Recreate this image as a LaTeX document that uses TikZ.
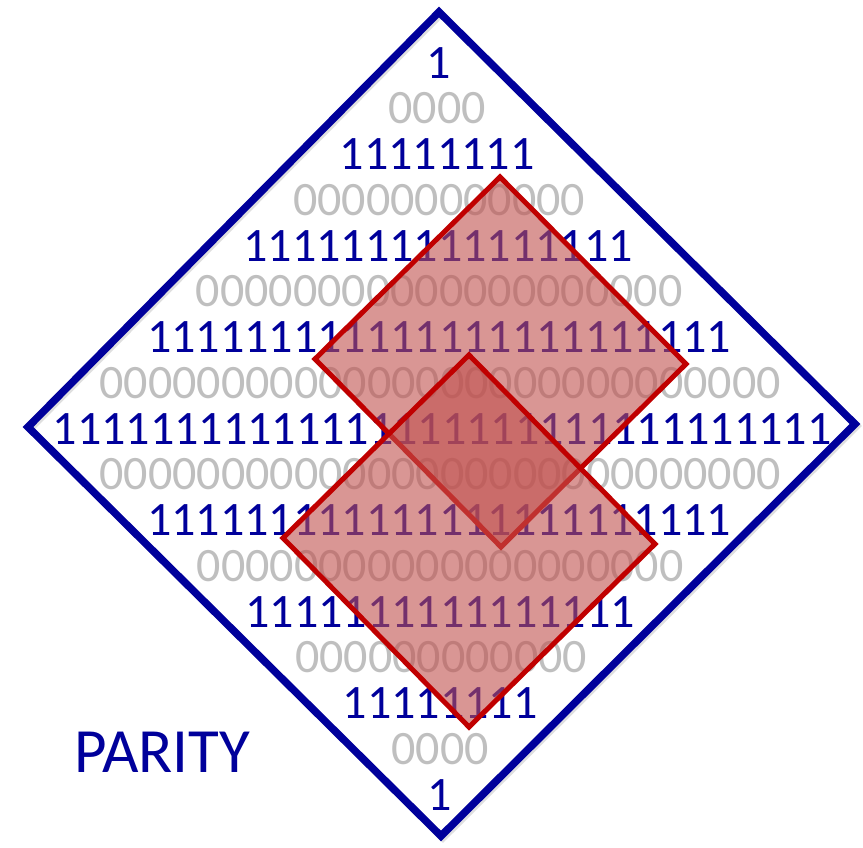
\documentclass[tikz,border=0pt]{standalone}
\usepackage{fontspec}
\setmainfont{Carlito}
\definecolor{pblue}{RGB}{0,0,155}
\definecolor{pgray}{RGB}{191,191,191}
\definecolor{pred}{RGB}{192,0,0}
\definecolor{pfill}{RGB}{192,80,77}
\begin{document}
\begin{tikzpicture}[x=1pt,y=-1pt,
  onerow/.style={anchor=base,inner sep=0pt,text=pblue,font=\fontsize{48}{48}\selectfont},
  zerorow/.style={anchor=base,inner sep=0pt,text=pgray,font=\fontsize{48}{48}\selectfont},
  outline/.style={draw=pblue,line width=7.5pt,line join=miter},
  redbox/.style={draw=pred,line width=5pt,fill=pfill,fill opacity=0.6,line join=miter}]
\useasboundingbox (0,0) rectangle (863,847);
% outer diamond
\coordinate (T) at (439,12);
\coordinate (R) at (855,424);
\coordinate (B) at (441,836);
\coordinate (L) at (28,427);
\draw[black!25,line width=7pt,opacity=0.5] ([shift={(2,2)}]T) -- ([shift={(2,2)}]R) -- ([shift={(2,2)}]B) -- ([shift={(2,2)}]L) -- cycle;
\draw[outline] (T) -- (R) -- (B) -- (L) -- cycle;
% rows
\node[onerow]  (r0)  at (439,78)     {1};
\node[zerorow] (r1)  at (437,123.75) {0000};
\node[onerow]  (r2)  at (437,169.5)  {11111111};
\node[zerorow] (r3)  at (439,215.25) {000000000000};
\node[onerow]  (r4)  at (438,261)    {1111111111111111};
\node[zerorow] (r5)  at (439,306.75) {00000000000000000000};
\node[onerow]  (r6)  at (439,352.5)  {111111111111111111111111};
\node[zerorow] (r7)  at (440,398.25) {0000000000000000000000000000};
\node[onerow]  (r8)  at (442,444)    {11111111111111111111111111111111};
\node[zerorow] (r9)  at (440,489.75) {0000000000000000000000000000};
\node[onerow]  (r10) at (439,535.5)  {111111111111111111111111};
\node[zerorow] (r11) at (440,581.25) {00000000000000000000};
\node[onerow]  (r12) at (440,627)    {1111111111111111};
\node[zerorow] (r13) at (441,672.75) {000000000000};
\node[onerow]  (r14) at (440,718.5)  {11111111};
\node[zerorow] (r15) at (440,764.25) {0000};
\node[onerow]  (r16) at (440,810)    {1};
% red diamonds
\draw[redbox] (500,177) -- (686,364) -- (501,547) -- (315,359) -- cycle;
\draw[redbox] (469,355) -- (655,544) -- (469,727) -- (283,538) -- cycle;
% label
\node[anchor=base west,inner sep=0pt,text=pblue,font=\fontsize{63}{63}\selectfont] (lab) at (74,772) {PARITY};
\end{tikzpicture}
\end{document}
